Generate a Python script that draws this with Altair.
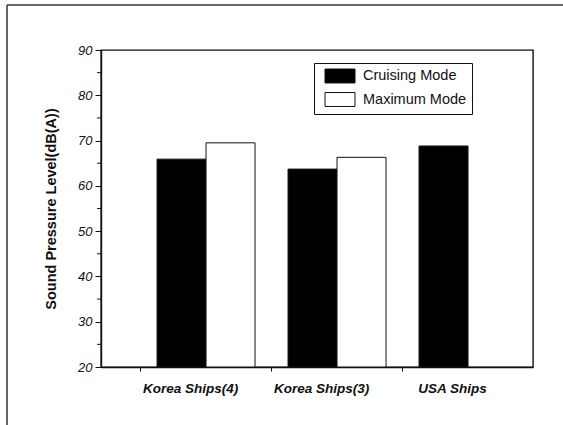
import altair as alt
import pandas as pd

# Sound pressure level by ship group and operating mode
ships = ["Korea Ships(4)", "Korea Ships(3)", "USA Ships"]
modes = ["Cruising Mode", "Maximum Mode"]
cruising = [65.9, 63.7, 68.8]
maximum = [69.5, 66.3, None]  # no maximum-mode figure for USA ships
minor_ticks = [25, 35, 45, 55, 65, 75, 85]
y_ticks = [20, 30, 40, 50, 60, 70, 80, 90]

rows = []
for ship, c, m in zip(ships, cruising, maximum):
    rows.append({"ship": ship, "mode": modes[0], "spl": c})
    if m is not None:
        rows.append({"ship": ship, "mode": modes[1], "spl": m})
bars_df = pd.DataFrame(rows)
minor_df = pd.DataFrame({"spl": minor_ticks})
one_row = pd.DataFrame({"k": [0]})

FONT = "Liberation Sans"
INK = "#111111"

y_scale = alt.Scale(domain=[20, 90], nice=False, zero=False)
y_axis = alt.Axis(
    title="Sound Pressure Level(dB(A))",
    values=y_ticks,
    tickSize=6, labelPadding=3, labelFont=FONT, labelFontSize=13,
    labelFontStyle="italic", labelColor=INK, tickColor=INK,
    domainColor=INK, domainWidth=1.4, grid=False,
    titleFont=FONT, titleFontSize=14.5, titleFontWeight="bold",
    titleColor=INK, titlePadding=19,
)

bars = alt.Chart(bars_df).mark_bar(stroke=INK, strokeWidth=1).encode(
    x=alt.X(
        "ship:N",
        sort=ships,
        scale=alt.Scale(domain=ships, paddingInner=0.252, paddingOuter=0.275,
                        align=0.778, round=False),
        axis=alt.Axis(
            title=None, tickOffset=-66, labelOffset=50, tickSize=4,
            labelPadding=10, labelFont=FONT, labelFontSize=13.5,
            labelFontWeight="bold", labelFontStyle="italic",
            labelColor=INK, tickColor=INK, domainColor=INK, domainWidth=1.4,
            labelAngle=0,
        ),
    ),
    xOffset=alt.XOffset("mode:N", sort=modes,
                        scale=alt.Scale(domain=modes, paddingInner=0, paddingOuter=0)),
    y=alt.Y("spl:Q", scale=y_scale, axis=y_axis),
    y2=alt.Y2(datum=20),
    color=alt.Color(
        "mode:N",
        scale=alt.Scale(domain=modes, range=["#000000", "#ffffff"]),
        legend=alt.Legend(
            title=None, orient="none", legendX=213, legendY=13,
            symbolType="M-2,-0.93H2V0.93H-2Z", symbolSize=225,
            symbolStrokeColor=INK, symbolStrokeWidth=1, symbolOpacity=1,
            symbolOffset=13, labelOffset=15, labelFont=FONT, labelFontSize=14.5,
            labelColor=INK, padding=5, rowPadding=5.5,
            fillColor="white", strokeColor=INK, labelLimit=300,
            labelExpr="datum.label + '\u00a0\u00a0\u00a0\u00a0\u00a0\u00a0'",
        ),
    ),
)

# short minor ticks on the value axis
minor = alt.Chart(minor_df).mark_rule(color=INK, strokeWidth=1).encode(
    y=alt.Y("spl:Q", scale=y_scale, axis=y_axis),
    x=alt.value(-4),
    x2=alt.value(0),
)

# outer border lines of the figure
border_left = alt.Chart(one_row).mark_rule(color="#333333", strokeWidth=1.5).encode(
    x=alt.value(-94), y=alt.value(-45), y2=alt.value(375)
)
border_top = alt.Chart(one_row).mark_rule(color="#333333", strokeWidth=1.5).encode(
    x=alt.value(-94), x2=alt.value(462), y=alt.value(-45)
)

chart = (
    alt.layer(bars, minor, border_left, border_top)
    .properties(
        width=432,
        height=317,
        autosize=alt.AutoSizeParams(type="none"),
        padding={"left": 101, "top": 50, "right": 30, "bottom": 58},
        background="white",
    )
    .configure_view(stroke=INK, strokeWidth=1.4)
)

chart.save("out.html", embed_options={"renderer": "svg", "actions": False})
